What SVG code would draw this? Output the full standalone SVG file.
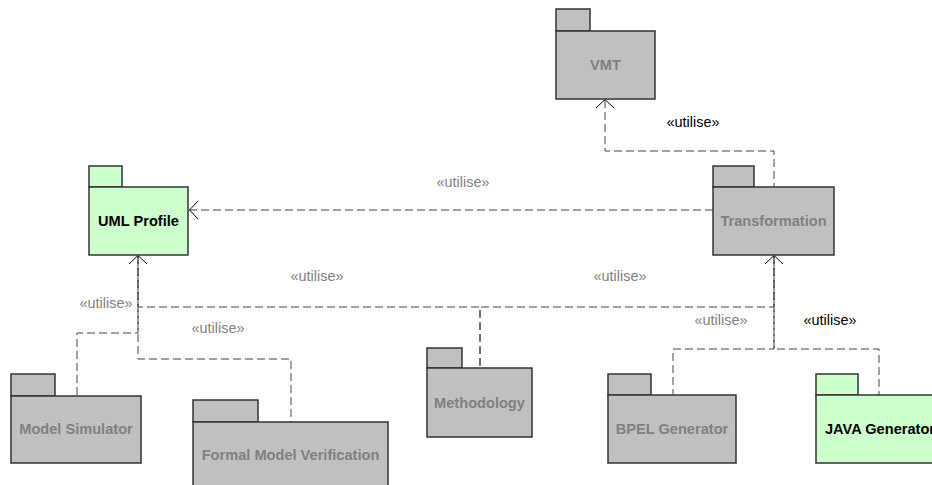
<svg xmlns="http://www.w3.org/2000/svg" width="932" height="485" viewBox="0 0 932 485">
  <style>
    .pkg { fill: #c0c0c0; stroke: #333333; stroke-width: 1.5; }
    .pkg.sel { fill: #ccffcc; }
    .name { font-family: "Liberation Sans", Arial, sans-serif; font-size: 14.6px; font-weight: bold; fill: #808080; text-anchor: middle; }
    .name.sel { fill: #000000; }
    .dep { fill: none; stroke: #444444; stroke-width: 1; stroke-dasharray: 8 4; }
    .dep.alt { stroke-dashoffset: 6; }
    .head { fill: none; stroke: #000000; stroke-width: 1; }
    .lbl { font-family: "Liberation Sans", Arial, sans-serif; font-size: 14.4px; fill: #808080; text-anchor: middle; }
    .lbl.sel { fill: #000000; }
  </style>
  <rect width="932" height="485" fill="#ffffff"/>

  <!-- dependency connectors (paths run from the arrow end so shared trunks interleave) -->
  <g id="connectors">
    <!-- Transformation uses VMT -->
    <path class="dep" d="M605,100 V151 H774 V187"/>
    <path class="head" d="M596,108 L605,99.5 L614,108"/>
    <text class="lbl sel" x="693" y="127">«utilise»</text>

    <!-- Transformation uses UML Profile -->
    <path class="dep" d="M189,210 H713"/>
    <path class="head" d="M198,201 L189.5,210 L198,219"/>
    <text class="lbl" x="463" y="187">«utilise»</text>

    <!-- Model Simulator uses UML Profile -->
    <path class="dep" d="M138,256 V333 H77 V396"/>
    <!-- Formal Model Verification uses UML Profile -->
    <path class="dep alt" d="M138,256 V359 H291 V422"/>
    <!-- Methodology uses UML Profile -->
    <path class="dep" d="M138,256 V307 H480 V368"/>
    <path class="head" d="M129,264 L138,255.5 L147,264"/>
    <text class="lbl" x="106" y="308">«utilise»</text>
    <text class="lbl" x="218" y="333">«utilise»</text>
    <text class="lbl" x="317" y="281">«utilise»</text>

    <!-- Methodology uses Transformation -->
    <path class="dep" d="M774,256 V307 H480 V368"/>
    <!-- BPEL Generator uses Transformation -->
    <path class="dep alt" d="M774,256 V349 H673 V395"/>
    <!-- JAVA Generator uses Transformation -->
    <path class="dep" d="M774,256 V349 H879 V395"/>
    <path class="head" d="M765,264 L774,255.5 L783,264"/>
    <text class="lbl" x="620" y="281">«utilise»</text>
    <text class="lbl" x="721" y="325">«utilise»</text>
    <text class="lbl sel" x="830" y="325">«utilise»</text>
  </g>

  <g id="vmt">
    <rect class="pkg" x="556" y="9" width="34" height="22"/>
    <rect class="pkg" x="556" y="31" width="99" height="68"/>
    <text class="name" x="605.5" y="70">VMT</text>
  </g>

  <g id="uml-profile">
    <rect class="pkg sel" x="89" y="166" width="33" height="21"/>
    <rect class="pkg sel" x="89" y="187" width="99" height="68"/>
    <text class="name sel" x="138.5" y="226">UML Profile</text>
  </g>

  <g id="transformation">
    <rect class="pkg" x="713" y="166" width="41" height="21"/>
    <rect class="pkg" x="713" y="187" width="121" height="68"/>
    <text class="name" x="773.5" y="226">Transformation</text>
  </g>

  <g id="model-simulator">
    <rect class="pkg" x="11" y="374" width="44" height="22"/>
    <rect class="pkg" x="11" y="396" width="130" height="67"/>
    <text class="name" x="76" y="434">Model Simulator</text>
  </g>

  <g id="formal-model-verification">
    <rect class="pkg" x="193" y="400" width="65" height="22"/>
    <rect class="pkg" x="193" y="422" width="195" height="68"/>
    <text class="name" x="290.5" y="460">Formal Model Verification</text>
  </g>

  <g id="methodology">
    <rect class="pkg" x="427" y="348" width="35" height="20"/>
    <rect class="pkg" x="427" y="368" width="105" height="69"/>
    <text class="name" x="479.5" y="408">Methodology</text>
  </g>

  <g id="bpel-generator">
    <rect class="pkg" x="608" y="374" width="43" height="21"/>
    <rect class="pkg" x="608" y="395" width="128" height="68"/>
    <text class="name" x="672" y="434">BPEL Generator</text>
  </g>

  <g id="java-generator">
    <rect class="pkg sel" x="816" y="374" width="42" height="21"/>
    <rect class="pkg sel" x="816" y="395" width="128" height="68"/>
    <text class="name sel" x="880" y="434">JAVA Generator</text>
  </g>
</svg>
